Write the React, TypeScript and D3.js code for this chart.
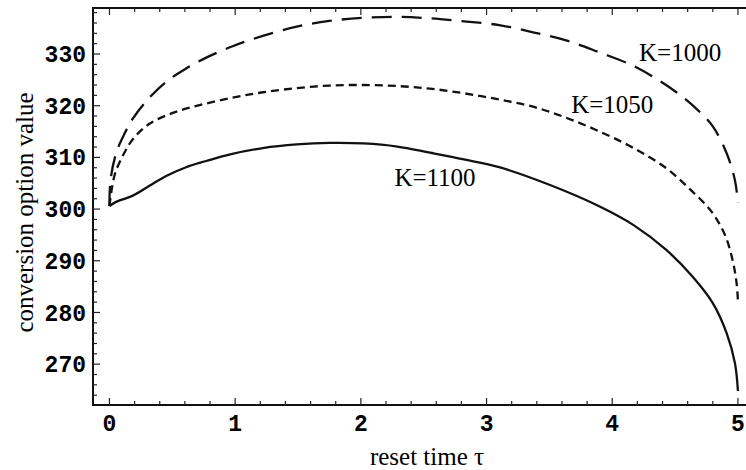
import React, { useEffect, useRef } from "react";
import * as d3 from "d3";

// values
const tauK1000 = [0, 0.008, 0.053, 0.12, 0.186, 0.29, 0.45, 0.61, 0.77, 0.98, 1.22, 1.49, 1.75, 2.02, 2.29, 2.55, 2.82, 3.1, 3.37, 3.64, 3.9, 4.17, 4.35, 4.51, 4.67, 4.8, 4.91, 4.976, 5.0];
const valK1000 = [300.6, 305.5, 310.8, 314.6, 317.5, 320.8, 324.6, 327.2, 329.3, 331.5, 333.5, 335.3, 336.4, 337.0, 337.2, 336.9, 336.3, 335.6, 334.2, 332.6, 330.3, 327.7, 325.2, 322.6, 319.4, 316.0, 310.8, 305.6, 301.2];

const tauK1050 = [0, 0.04, 0.106, 0.186, 0.318, 0.504, 0.716, 0.97, 1.22, 1.49, 1.75, 2.02, 2.29, 2.55, 2.82, 3.1, 3.37, 3.63, 3.9, 4.17, 4.43, 4.62, 4.79, 4.9, 4.963, 4.99, 5.0];
const valK1050 = [300.6, 306.5, 310.3, 313.5, 316.5, 318.6, 320.1, 321.5, 322.6, 323.4, 323.9, 324.0, 323.8, 323.3, 322.4, 321.2, 319.8, 317.7, 315.0, 311.8, 307.9, 303.8, 299.5, 294.8, 289.5, 285.5, 282.2];

const tauK1100 = [0, 0.053, 0.186, 0.318, 0.451, 0.61, 0.77, 0.96, 1.22, 1.49, 1.75, 2.02, 2.29, 2.55, 2.82, 3.1, 3.5, 3.9, 4.17, 4.43, 4.64, 4.8, 4.91, 4.976, 5.0];
const valK1100 = [300.6, 301.4, 302.6, 304.5, 306.4, 308.1, 309.3, 310.6, 311.8, 312.5, 312.8, 312.7, 312.1, 310.9, 309.6, 308.1, 304.7, 300.5, 296.9, 292.1, 286.9, 281.8, 276.0, 270.2, 264.8];

const xTicks = [0, 1, 2, 3, 4, 5];
const yTicks = [270, 280, 290, 300, 310, 320, 330];
const curveLabels = ["K=1000", "K=1050", "K=1100"];
const labelTau = [4.54, 4.0, 2.59];
const labelVal = [328.6, 318.6, 304.5];

function drawChart(node: SVGSVGElement) {
  const width = 746;
  const height = 470;
  const left = 93, right = 748, top = 8, bottom = 405;

  const svg = d3.select(node).attr("width", width).attr("height", height);
  svg.selectAll("*").remove();

  const x = d3.scaleLinear().domain([-0.131, 5.08]).range([left, right]);
  const y = d3.scaleLinear().domain([262.1, 338.9]).range([bottom, top]);

  svg.append("rect").attr("width", width).attr("height", height).attr("fill", "#fff");

  // frame (right side runs off the picture)
  svg.append("rect")
    .attr("x", left).attr("y", top)
    .attr("width", right - left).attr("height", bottom - top)
    .attr("fill", "none").attr("stroke", "#111").attr("stroke-width", 2);

  // inward ticks on bottom, top and left
  const xMinor = d3.range(0, 5.01, 0.2);
  const yMinor = d3.range(264, 339, 2);
  const g = svg.append("g").attr("stroke", "#222").attr("stroke-width", 1.2);
  xMinor.forEach((t) => {
    const major = Math.abs(t - Math.round(t)) < 1e-6;
    const len = major ? 7 : 4;
    g.append("line").attr("x1", x(t)).attr("x2", x(t)).attr("y1", bottom).attr("y2", bottom - len);
    g.append("line").attr("x1", x(t)).attr("x2", x(t)).attr("y1", top).attr("y2", top + len);
  });
  yMinor.forEach((v) => {
    const major = v % 10 === 0;
    const len = major ? 7 : 4;
    g.append("line").attr("x1", left).attr("x2", left + len).attr("y1", y(v)).attr("y2", y(v));
  });

  // tick labels
  svg.append("g")
    .selectAll("text")
    .data(xTicks)
    .enter()
    .append("text")
    .attr("x", (d) => x(d))
    .attr("y", 431)
    .attr("text-anchor", "middle")
    .style("font-family", "'Liberation Mono', 'DejaVu Sans Mono', monospace")
    .style("font-size", "23px")
    .style("font-weight", "bold")
    .text((d) => d);

  svg.append("g")
    .selectAll("text")
    .data(yTicks)
    .enter()
    .append("text")
    .attr("x", 86)
    .attr("y", (d) => y(d))
    .attr("dy", "0.35em")
    .attr("text-anchor", "end")
    .style("font-family", "'Liberation Mono', 'DejaVu Sans Mono', monospace")
    .style("font-size", "23px")
    .style("font-weight", "bold")
    .text((d) => d);

  // axis titles
  svg.append("text")
    .attr("transform", `translate(33, ${(top + bottom) / 2 + 6}) rotate(-90)`)
    .attr("text-anchor", "middle")
    .style("font-family", "'Liberation Serif', 'Times New Roman', serif")
    .style("font-size", "25px")
    .text("conversion option value");

  svg.append("text")
    .attr("x", 427)
    .attr("y", 465)
    .attr("text-anchor", "middle")
    .style("font-family", "'Liberation Serif', 'Times New Roman', serif")
    .style("font-size", "25px")
    .text("reset time τ");

  // curves
  const line = d3
    .line<[number, number]>()
    .x((d) => x(d[0]))
    .y((d) => y(d[1]))
    .curve(d3.curveCatmullRom.alpha(0.5));

  const series = [
    { t: tauK1000, v: valK1000, dash: "20,10" },
    { t: tauK1050, v: valK1050, dash: "8,5" },
    { t: tauK1100, v: valK1100, dash: null },
  ];

  series.forEach((s) => {
    const pts = s.t.map((t, i) => [t, s.v[i]] as [number, number]);
    svg.append("path")
      .attr("d", line(pts))
      .attr("fill", "none")
      .attr("stroke", "#111")
      .attr("stroke-width", 2.3)
      .attr("stroke-dasharray", s.dash);
  });

  // curve labels
  svg.append("g")
    .selectAll("text")
    .data(curveLabels)
    .enter()
    .append("text")
    .attr("x", (d, i) => x(labelTau[i]))
    .attr("y", (d, i) => y(labelVal[i]))
    .attr("text-anchor", "middle")
    .style("font-family", "'Liberation Serif', 'Times New Roman', serif")
    .style("font-size", "25px")
    .text((d) => d);
}

export default function App() {
  const svgRef = useRef<SVGSVGElement>(null);

  useEffect(() => {
    if (svgRef.current) drawChart(svgRef.current);
  }, []);

  return <svg ref={svgRef} style={{ position: "absolute", left: 0, top: 0 }}></svg>;
}
